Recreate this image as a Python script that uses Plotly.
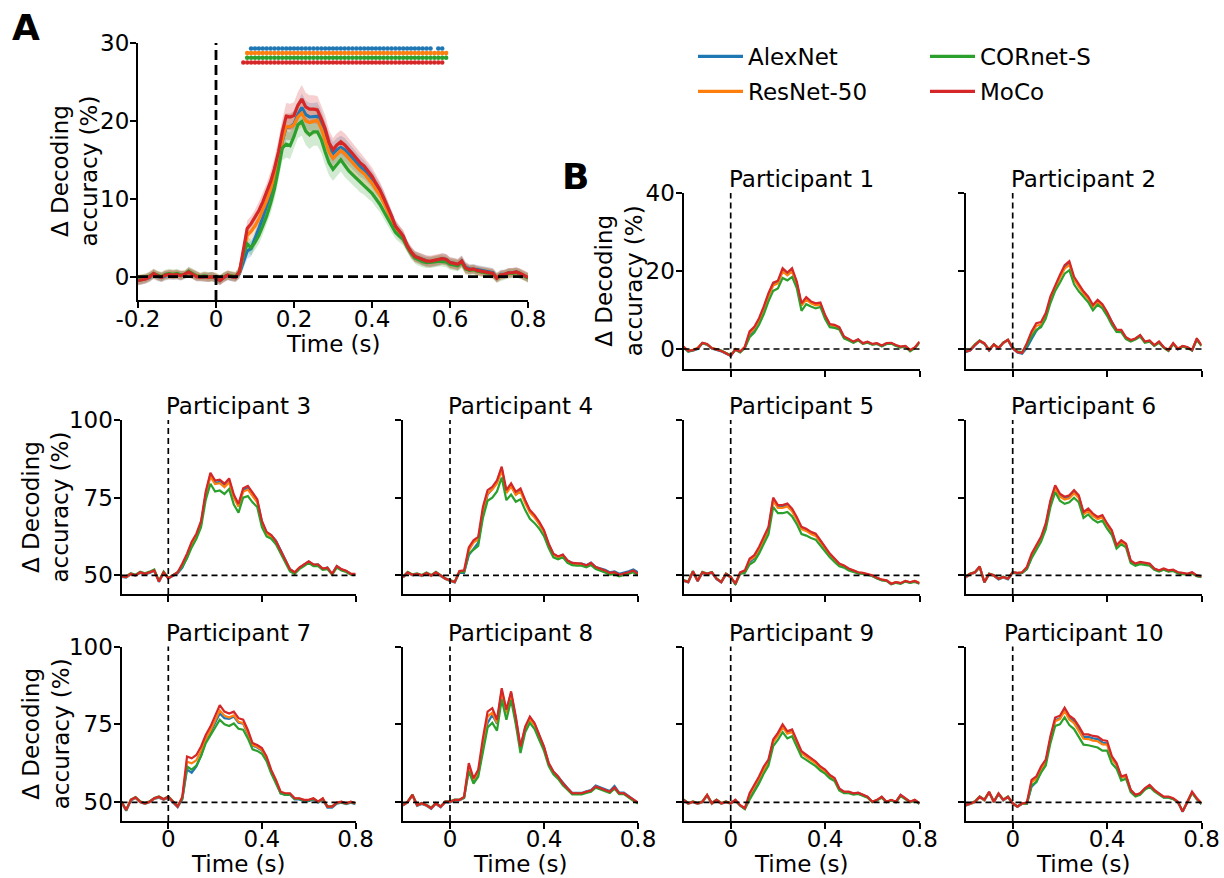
import numpy as np
import plotly.graph_objects as go

# ---------------- data ----------------
models = ["AlexNet", "ResNet-50", "CORnet-S", "MoCo"]
time_A = np.round(np.linspace(-0.2, 0.8, 101), 2)
time_P = np.round(np.linspace(-0.2, 0.8, 51), 2)

A_alexnet = [-0.5,-0.4,-0.3,-0.1,0.3,0.0,-0.1,0.1,0.2,0.2,
             0.2,0.1,0.2,0.5,0.3,0.0,-0.1,-0.1,-0.1,0.0,
             -0.2,-0.5,-0.1,0.1,0.0,-0.1,0.4,1.8,3.3,3.6,
             4.8,6.2,7.6,9.0,10.6,12.5,14.8,17.4,19.2,19.2,
             19.6,20.8,21.7,20.8,20.5,20.5,20.6,19.6,18.2,16.6,
             15.8,16.3,16.6,16.3,15.8,15.2,14.6,14.1,13.7,13.1,
             12.5,11.7,11.0,10.0,8.9,7.7,6.4,5.7,5.1,4.0,
             3.1,2.6,2.4,2.1,2.0,1.9,2.0,2.1,2.3,2.2,
             1.8,1.7,1.5,2.0,1.2,1.0,1.0,0.9,0.8,0.7,
             0.6,0.5,-0.1,0.3,0.3,0.5,0.5,0.6,0.4,0.2,
             -0.1]
A_resnet = [-0.4,-0.3,-0.2,0.0,0.3,0.1,0.0,0.2,0.3,0.3,
            0.3,0.2,0.3,0.5,0.3,0.1,0.0,0.0,-0.1,0.0,
            -0.1,-0.4,-0.1,0.2,0.1,0.0,0.5,3.0,5.3,5.8,
            6.5,7.4,8.5,9.8,11.2,12.9,15.0,17.5,19.3,19.2,
            19.5,20.5,21.0,20.0,19.8,20.0,20.1,19.0,17.6,16.0,
            15.2,15.7,16.2,15.8,15.2,14.7,14.1,13.6,13.2,12.6,
            12.0,11.2,10.5,9.5,8.5,7.4,6.2,5.6,5.0,3.9,
            3.1,2.5,2.3,2.1,1.9,1.9,2.0,2.1,2.2,2.1,
            1.7,1.6,1.5,1.9,1.0,0.9,0.9,0.7,0.6,0.6,
            0.5,0.4,-0.1,0.2,0.3,0.4,0.5,0.5,0.4,0.2,
            -0.1]
A_cornet = [-0.4,-0.3,-0.2,0.1,0.4,0.2,0.0,0.3,0.4,0.3,
            0.4,0.2,0.3,0.7,0.4,0.1,0.0,0.1,0.0,0.0,
            -0.1,-0.4,0.0,0.2,0.1,0.0,0.6,2.8,4.2,3.7,
            4.4,5.3,6.5,7.8,9.4,11.3,13.8,16.5,17.0,16.8,
            18.0,19.5,19.9,18.7,18.2,18.6,18.6,17.6,16.0,14.6,
            13.8,14.4,15.0,14.3,13.6,13.1,12.6,12.1,11.7,11.2,
            10.7,10.0,9.3,8.4,7.5,6.6,5.7,5.2,4.8,3.8,
            3.0,2.4,2.1,1.9,1.8,1.8,1.9,2.0,2.0,1.9,
            1.6,1.5,1.4,1.8,1.0,0.8,0.9,0.7,0.6,0.5,
            0.4,0.3,-0.2,0.1,0.2,0.4,0.4,0.5,0.3,0.1,
            -0.2]
A_moco = [-0.5,-0.4,-0.3,0.0,0.4,0.1,-0.1,0.2,0.3,0.2,
          0.3,0.1,0.3,0.6,0.3,0.0,-0.1,0.0,-0.1,0.0,
          -0.2,-0.5,-0.1,0.2,0.0,-0.1,0.6,3.5,6.2,6.8,
          7.6,8.5,9.6,10.8,12.2,13.9,16.0,18.6,20.6,20.5,
          20.7,22.0,22.8,21.8,21.5,21.5,21.4,20.3,19.0,17.2,
          16.3,16.9,17.3,16.9,16.4,15.8,15.2,14.6,14.2,13.5,
          12.9,12.0,11.2,10.1,9.0,7.8,6.5,5.8,5.2,4.0,
          3.2,2.6,2.4,2.2,2.0,2.0,2.1,2.2,2.3,2.2,
          1.8,1.7,1.6,2.0,1.1,0.9,1.0,0.8,0.7,0.6,
          0.5,0.4,-0.2,0.2,0.3,0.5,0.5,0.6,0.4,0.2,
          -0.1]
sem_A = [0.6,0.6,0.6,0.6,0.6,0.6,0.6,0.6,0.6,0.6,
         0.6,0.6,0.5,0.6,0.6,0.6,0.5,0.6,0.6,0.6,
         0.6,0.6,0.6,0.6,0.6,0.6,0.7,0.9,1.0,1.0,
         1.0,1.1,1.1,1.2,1.3,1.4,1.5,1.6,1.7,1.7,
         1.7,1.7,1.8,1.8,1.8,1.8,1.8,1.7,1.7,1.6,
         1.5,1.5,1.5,1.5,1.4,1.4,1.3,1.3,1.2,1.2,
         1.1,1.1,1.0,1.0,0.9,0.9,0.8,0.8,0.8,0.7,
         0.7,0.7,0.7,0.7,0.7,0.7,0.7,0.7,0.7,0.7,
         0.7,0.7,0.7,0.7,0.7,0.6,0.6,0.6,0.6,0.6,
         0.6,0.6,0.6,0.6,0.6,0.6,0.6,0.6,0.6,0.6,
         0.6]

# significant time windows (s) per model
sig_alexnet = [(0.09, 0.55), (0.57, 0.58)]
sig_resnet = [(0.08, 0.59)]
sig_cornet = [(0.08, 0.59)]
sig_moco = [(0.07, 0.58)]

P1_alexnet = [0.4,-0.6,-0.4,0.0,1.4,1.1,0.1,-0.2,-0.6,-1.2,-1.7,-0.2,-0.8,0.4,3.6,5.0,7.3,10.2,13.7,16.6,17.0,20.0,19.1,20.1,16.9,11.3,12.9,11.9,11.4,11.6,8.5,6.2,6.0,5.5,3.1,2.5,1.7,2.4,1.4,1.7,1.2,1.4,0.7,1.3,1.5,0.9,0.5,0.7,-0.4,0.3,1.7]
P1_resnet = [0.5,-0.4,-0.2,0.3,1.5,1.2,0.3,0.0,-0.4,-1.0,-1.6,0.0,-0.6,0.5,4.0,5.3,7.4,10.3,13.6,16.3,16.8,19.9,18.9,19.9,16.7,11.1,12.7,11.7,11.2,11.4,8.3,6.1,5.9,5.3,3.0,2.4,1.8,2.3,1.4,1.8,1.2,1.4,0.8,1.4,1.5,0.9,0.5,0.7,-0.2,0.3,1.8]
P1_cornet = [0.5,-0.7,-0.3,0.1,1.5,1.2,0.2,-0.1,-0.4,-1.0,-1.6,-0.2,-0.9,0.2,3.0,4.2,6.2,8.9,12.2,14.9,15.5,18.2,17.6,18.5,15.6,9.8,11.5,10.9,10.4,10.8,7.7,5.6,5.4,5.0,2.7,2.2,1.6,2.2,1.3,1.6,1.1,1.3,0.7,1.3,1.4,0.8,0.4,0.6,-0.6,0.2,1.6]
P1_moco = [0.6,-0.5,-0.3,0.2,1.6,1.3,0.2,-0.1,-0.5,-1.1,-1.8,-0.1,-0.7,0.6,4.5,5.7,7.9,10.9,14.3,17.0,17.5,20.7,19.6,20.7,17.3,11.7,13.3,12.2,11.7,11.9,8.7,6.4,6.2,5.6,3.2,2.6,1.9,2.5,1.5,1.9,1.3,1.5,0.9,1.5,1.6,1.0,0.6,0.8,-0.3,0.4,1.9]

P2_alexnet = [-0.8,-0.4,0.9,2.0,1.3,-0.4,1.1,0.1,1.5,2.2,0.1,-0.9,-1.2,0.3,2.5,4.6,6.0,8.5,12.9,16.0,18.6,21.0,22.0,18.1,16.1,14.4,13.1,11.0,12.3,11.2,9.2,6.8,4.8,4.7,2.8,2.1,2.6,3.5,1.8,2.0,0.9,1.8,0.4,-0.4,1.4,-0.1,0.7,0.4,-0.4,2.6,0.8]
P2_resnet = [-0.6,-0.2,1.1,2.0,1.4,-0.2,1.1,0.3,1.5,2.3,0.3,-0.7,-0.9,1.2,4.0,5.9,6.3,8.6,12.8,15.8,18.3,20.6,21.6,17.8,15.9,14.2,12.9,10.8,12.1,11.0,9.1,6.7,4.8,4.7,2.9,2.2,2.6,3.4,1.8,2.1,0.9,1.8,0.4,-0.2,1.4,0.1,0.7,0.4,-0.2,2.5,0.9]
P2_cornet = [-0.5,-0.2,1.2,2.2,1.4,-0.2,1.2,0.3,1.7,2.3,0.4,-0.6,-0.8,0.9,3.2,4.9,5.6,7.8,11.8,14.9,17.0,19.3,20.2,16.6,14.8,13.3,12.0,9.9,11.4,10.4,8.5,6.2,4.4,4.3,2.5,1.9,2.4,3.2,1.6,1.9,0.8,1.6,0.3,-0.5,1.2,0.0,0.6,0.3,-0.4,2.3,0.8]
P2_moco = [-0.7,-0.3,1.0,2.1,1.5,-0.3,1.2,0.2,1.6,2.4,0.2,-0.8,-1.0,1.5,4.5,6.6,6.9,9.2,13.5,16.5,19.0,21.5,22.5,18.5,16.5,14.8,13.4,11.3,12.6,11.5,9.5,7.0,5.0,4.9,3.0,2.3,2.7,3.6,1.9,2.2,1.0,1.9,0.5,-0.3,1.5,0.0,0.8,0.5,-0.3,2.7,1.0]

P3_alexnet = [49.5,49.3,50.3,49.9,50.8,50.3,50.8,51.4,47.9,50.8,49.0,49.8,50.6,52.5,55.8,59.8,62.7,66.8,76.2,82.4,79.8,80.1,78.8,80.5,75.4,72.5,77.4,78.2,76.0,74.1,67.3,63.8,62.9,61.2,58.2,55.0,52.0,50.9,52.4,53.4,54.4,53.4,53.5,52.1,52.5,50.4,53.0,51.9,51.4,50.5,50.3]
P3_resnet = [49.6,49.4,50.4,50.0,50.9,50.4,51.0,51.5,48.1,50.9,49.1,50.0,50.9,53.3,56.3,60.0,62.6,66.6,75.8,81.8,79.4,79.7,78.4,80.0,75.0,72.1,76.9,77.6,75.4,73.5,66.8,63.4,62.4,60.5,57.6,54.7,51.9,50.9,52.4,53.3,54.3,53.3,53.4,52.1,52.4,50.4,52.8,51.9,51.4,50.4,50.4]
P3_cornet = [49.8,49.7,50.7,50.2,51.2,50.7,51.2,51.9,48.3,51.2,49.2,50.2,51.0,52.8,55.5,59.0,61.8,65.5,74.3,79.5,77.0,77.3,76.2,77.8,72.8,70.2,75.0,75.5,73.5,72.0,65.5,62.5,61.8,60.0,57.0,54.2,51.3,50.5,52.0,53.0,54.0,53.0,53.0,51.8,52.0,50.2,52.5,51.6,51.1,50.2,50.2]
P3_moco = [49.7,49.5,50.5,50.0,51.0,50.5,51.0,51.6,48.0,51.0,49.0,50.0,51.0,53.8,57.0,60.8,63.4,67.5,77.0,83.0,80.5,80.8,79.5,81.2,76.0,73.0,78.0,78.8,76.5,74.5,67.5,64.0,63.0,61.0,58.0,55.0,52.0,51.0,52.5,53.5,54.5,53.5,53.5,52.2,52.5,50.5,53.0,52.0,51.5,50.5,50.5]

P4_alexnet = [49.3,50.8,50.0,50.3,49.8,50.6,49.8,50.8,49.8,48.8,48.2,47.7,50.9,50.8,56.5,58.5,60.5,69.5,76.0,77.8,80.0,84.5,76.9,78.9,76.0,77.3,73.8,70.6,69.0,66.8,64.2,60.0,56.8,56.0,56.6,54.8,54.0,53.7,53.8,53.3,54.1,52.7,52.3,51.8,51.0,51.3,50.5,50.8,51.3,51.9,51.0]
P4_resnet = [49.4,50.9,50.1,50.4,49.9,50.7,49.9,50.9,49.9,48.9,48.3,47.9,51.2,51.3,58.0,60.5,61.6,70.8,76.3,77.6,79.6,83.8,76.5,78.6,75.9,77.0,73.3,70.2,68.6,66.5,63.9,59.7,56.6,55.8,56.4,54.5,53.7,53.5,53.5,52.9,53.6,52.4,51.9,51.3,50.6,50.7,50.0,50.2,50.7,51.3,50.2]
P4_cornet = [49.6,51.1,50.3,50.6,50.1,50.9,50.1,51.1,50.1,49.1,48.5,47.9,51.0,51.0,57.0,58.2,59.5,68.5,74.0,75.0,77.0,81.5,74.2,76.0,73.7,74.5,71.0,68.2,66.8,65.0,62.6,58.8,55.8,55.2,55.8,54.0,53.3,53.1,53.1,52.6,53.3,52.0,51.5,50.9,50.2,50.4,49.7,50.0,50.5,51.0,50.0]
P4_moco = [49.5,51.0,50.2,50.5,50.0,50.8,50.0,51.0,50.0,49.0,48.4,47.8,51.4,51.6,59.0,61.3,62.4,72.0,77.4,78.5,80.6,85.0,77.4,79.6,76.9,78.0,74.2,71.0,69.4,67.2,64.5,60.2,57.0,56.1,56.7,54.8,54.0,53.8,53.8,53.2,54.0,52.7,52.2,51.6,50.8,51.0,50.2,50.5,51.0,51.6,50.5]

P5_alexnet = [48.2,47.7,51.1,48.1,50.8,50.3,50.8,48.8,47.7,50.3,49.3,47.3,50.6,51.0,54.2,55.6,58.2,61.5,64.8,74.3,72.0,72.0,72.6,71.0,68.4,65.4,64.7,63.7,63.1,61.0,58.8,56.7,55.2,53.6,53.0,52.0,51.4,50.8,50.6,50.3,49.8,49.1,48.5,48.3,47.2,47.7,47.4,48.1,47.7,48.1,47.4]
P5_resnet = [48.3,47.9,51.2,48.3,50.9,50.4,50.9,49.0,47.9,50.4,49.4,47.4,50.8,51.3,54.8,55.9,58.4,61.6,64.7,74.0,71.7,71.7,72.2,70.6,68.0,64.9,64.3,63.3,62.7,60.7,58.6,56.6,55.1,53.6,53.0,52.0,51.5,50.9,50.7,50.4,49.9,49.2,48.6,48.4,47.4,47.8,47.5,48.2,47.8,48.2,47.6]
P5_cornet = [48.5,48.0,51.4,48.3,51.1,50.6,51.1,49.0,47.9,50.6,49.6,47.0,50.5,50.8,53.5,54.5,57.0,60.0,63.2,72.0,70.0,70.0,70.4,69.0,66.5,63.3,62.8,62.0,61.5,59.6,57.6,55.8,54.3,52.9,52.5,51.6,51.1,50.6,50.5,50.2,49.8,49.0,48.4,48.2,47.1,47.6,47.3,48.0,47.6,47.9,47.3]
P5_moco = [48.4,47.8,51.3,48.2,51.0,50.5,51.0,48.9,47.8,50.5,49.5,47.3,51.0,51.6,55.4,56.5,59.1,62.4,65.6,75.0,72.6,72.6,73.1,71.5,68.8,65.6,65.0,64.0,63.4,61.3,59.1,57.0,55.4,53.8,53.2,52.2,51.6,51.0,50.8,50.5,50.0,49.2,48.6,48.4,47.3,47.8,47.5,48.2,47.8,48.2,47.5]

P6_alexnet = [49.3,50.3,50.8,52.6,47.7,50.3,49.8,48.7,49.3,48.7,50.8,50.6,50.8,52.0,55.8,58.8,61.7,66.0,73.6,78.5,75.8,74.8,75.3,76.8,75.3,69.9,71.0,69.4,68.3,68.9,66.3,64.1,59.5,61.0,60.0,54.6,53.6,54.1,53.8,53.6,52.1,51.5,52.0,51.4,51.7,50.9,50.7,50.4,50.9,49.8,49.4]
P6_resnet = [49.4,50.4,50.9,52.7,47.9,50.4,49.9,48.9,49.4,48.9,50.9,50.7,50.9,52.4,56.4,59.0,61.6,65.8,73.2,78.0,75.3,74.4,74.8,76.4,74.9,69.6,70.7,69.1,68.1,68.6,66.0,63.8,59.2,60.7,59.7,54.5,53.5,54.0,53.7,53.5,52.0,51.4,51.9,51.4,51.6,50.8,50.6,50.3,50.8,49.9,49.6]
P6_cornet = [49.6,50.6,51.1,52.8,47.8,50.6,50.1,49.0,49.6,49.0,51.0,50.7,50.8,52.0,55.5,58.2,60.8,64.8,72.0,76.8,74.0,73.0,73.5,75.0,73.5,68.5,69.6,68.0,67.0,67.6,65.0,63.0,58.6,60.0,59.0,54.0,53.1,53.6,53.3,53.1,51.8,51.2,51.8,51.2,51.4,50.6,50.4,50.2,50.6,49.7,49.5]
P6_moco = [49.5,50.5,51.0,52.9,47.8,50.5,50.0,48.9,49.5,48.9,51.0,50.8,51.0,52.7,57.0,59.7,62.4,66.7,74.2,79.0,76.3,75.3,75.8,77.4,75.8,70.4,71.5,69.9,68.8,69.4,66.7,64.5,59.7,61.3,60.2,54.8,53.8,54.3,54.0,53.8,52.2,51.6,52.2,51.6,51.8,51.0,50.8,50.5,51.0,50.0,49.7]

P7_alexnet = [49.9,47.3,50.6,51.4,50.0,49.5,50.0,51.1,51.5,50.8,51.5,50.0,48.4,51.0,60.5,59.5,61.5,65.0,69.5,72.5,75.5,78.5,77.0,76.8,77.5,75.5,75.2,72.0,68.2,67.6,66.6,64.0,59.6,56.6,52.9,52.4,52.4,50.9,50.9,50.4,50.4,50.9,49.9,50.9,48.3,48.3,49.6,49.9,49.4,49.9,49.4]
P7_resnet = [50.1,47.6,50.7,51.5,50.1,49.6,50.1,51.2,51.7,50.9,51.7,50.1,48.7,51.5,63.0,62.5,63.5,66.5,70.3,73.0,76.0,79.5,77.8,77.2,77.9,75.8,75.4,72.3,68.4,67.8,66.8,64.2,60.0,57.0,53.2,52.7,52.7,51.2,51.2,50.7,50.7,51.2,50.1,51.2,48.6,48.6,49.8,50.1,49.6,50.1,49.6]
P7_cornet = [50.3,47.4,50.9,51.7,50.3,49.8,50.3,51.4,51.9,51.1,51.9,50.3,48.8,51.2,61.5,60.5,61.8,64.8,69.0,71.5,74.0,76.5,75.0,74.5,75.3,73.6,73.3,70.5,67.0,66.5,65.6,63.2,59.2,56.3,52.9,52.4,52.5,51.2,51.1,50.6,50.6,51.1,50.1,51.1,48.7,48.7,49.8,50.1,49.6,50.1,49.6]
P7_moco = [50.2,47.5,50.8,51.6,50.2,49.7,50.2,51.3,51.8,51.0,51.8,50.2,48.6,51.8,64.7,64.1,65.2,67.9,71.6,74.3,77.5,81.2,79.1,78.5,79.1,77.0,76.5,73.2,69.0,68.4,67.4,64.7,60.4,57.2,53.4,52.9,52.9,51.3,51.3,50.8,50.8,51.3,50.2,51.3,48.6,48.6,49.9,50.2,49.7,50.2,49.7]

P8_alexnet = [48.9,50.0,52.2,48.9,49.5,48.9,47.9,49.5,48.4,50.0,50.0,50.6,50.6,51.4,61.0,56.8,59.0,67.5,75.5,78.0,75.2,85.8,78.9,85.0,77.0,67.6,74.0,77.2,75.2,71.4,67.7,62.5,59.8,58.2,56.2,54.6,53.0,53.0,53.0,53.5,53.9,55.4,54.8,54.2,53.6,55.2,53.1,53.1,51.9,50.8,49.8]
P8_resnet = [49.0,50.1,52.3,49.0,49.6,49.0,48.1,49.6,48.6,50.1,50.1,50.7,50.7,51.6,61.5,57.2,59.6,69.2,77.5,78.8,75.4,85.5,78.6,84.6,76.5,67.2,73.5,76.7,74.7,71.0,67.4,62.2,59.6,58.0,55.9,54.3,52.8,52.8,52.8,53.3,53.7,55.0,54.4,53.9,53.3,54.6,52.8,52.8,51.7,50.7,49.8]
P8_cornet = [49.2,50.3,52.5,49.2,49.8,49.2,48.3,49.8,48.7,50.3,50.3,50.9,50.9,51.5,60.0,56.0,58.2,66.5,74.0,75.5,73.0,83.0,76.5,82.8,75.0,65.8,72.5,75.5,73.5,70.0,66.5,61.6,59.0,57.5,55.5,54.0,52.5,52.5,52.5,53.0,53.4,54.7,54.1,53.6,53.0,54.4,52.6,52.6,51.5,50.5,49.6]
P8_moco = [49.1,50.2,52.4,49.1,49.7,49.1,48.1,49.7,48.6,50.2,50.2,50.8,50.8,51.8,62.6,57.7,60.4,70.6,79.1,80.2,76.5,86.6,79.7,85.6,77.5,67.9,74.3,77.5,75.4,71.6,67.9,62.6,59.9,58.3,56.1,54.5,52.9,52.9,52.9,53.4,53.8,55.1,54.5,54.0,53.4,54.8,52.9,52.9,51.8,50.8,49.9]

P9_alexnet = [50.6,49.5,50.0,49.5,50.0,52.2,49.5,50.6,49.5,50.0,49.5,50.6,48.9,47.9,51.5,54.2,57.0,60.5,63.0,69.5,71.8,74.5,72.4,73.0,69.2,66.0,64.9,63.8,62.8,61.2,60.2,58.6,57.6,54.3,53.3,53.3,52.8,53.0,52.3,51.7,50.1,50.7,51.7,50.1,50.7,50.1,52.3,51.2,50.1,50.7,49.5]
P9_resnet = [50.7,49.6,50.1,49.6,50.1,52.3,49.6,50.7,49.6,50.1,49.6,50.7,49.0,48.0,52.3,55.0,57.6,60.7,63.0,69.3,71.4,74.1,72.0,72.6,68.9,65.7,64.6,63.5,62.5,60.9,59.9,58.3,57.3,54.2,53.2,53.2,52.7,52.9,52.2,51.6,50.1,50.7,51.6,50.1,50.7,50.1,52.2,51.2,50.1,50.7,49.6]
P9_cornet = [50.9,49.8,50.3,49.8,50.3,52.3,49.8,50.9,49.8,50.3,49.8,50.6,49.0,47.8,50.8,53.5,56.0,59.2,61.8,68.0,70.0,72.5,70.5,71.2,67.6,64.6,63.6,62.6,61.6,60.2,59.2,57.7,56.8,53.8,52.9,52.9,52.5,52.7,52.0,51.5,50.0,50.6,51.5,50.0,50.6,50.0,52.0,51.0,50.0,50.5,49.5]
P9_moco = [50.8,49.7,50.2,49.7,50.2,52.4,49.7,50.8,49.7,50.2,49.7,50.8,49.1,48.1,52.9,55.6,58.3,61.5,63.7,70.2,72.3,75.0,72.8,73.4,69.6,66.4,65.3,64.2,63.1,61.5,60.5,58.8,57.8,54.5,53.4,53.4,52.9,53.1,52.4,51.8,50.2,50.8,51.8,50.2,50.8,50.2,52.4,51.3,50.2,50.8,49.7]

P10_alexnet = [48.9,49.5,50.0,51.6,50.6,53.1,50.0,52.6,50.6,51.6,49.5,48.5,49.5,49.5,55.0,56.5,60.0,62.8,70.5,76.4,77.0,79.7,77.1,75.9,73.6,71.0,71.0,70.5,70.3,69.2,68.9,64.2,62.1,57.9,58.4,53.8,52.3,52.8,54.3,55.4,53.8,52.7,51.6,51.6,51.1,50.0,47.0,50.0,53.1,51.1,49.4]
P10_resnet = [49.0,49.6,50.1,51.7,50.7,53.2,50.1,52.7,50.7,51.7,49.6,48.6,49.6,49.7,56.5,57.5,60.7,62.9,70.3,76.0,76.7,79.3,76.6,75.4,73.1,70.4,70.3,69.8,69.6,68.6,68.5,64.0,62.0,57.9,58.4,53.8,52.3,52.8,54.4,55.5,53.9,52.8,51.7,51.7,51.2,50.1,47.1,50.1,53.2,51.2,49.6]
P10_cornet = [49.2,49.8,50.3,51.9,50.9,53.3,50.3,52.8,50.9,51.9,49.8,48.7,49.7,49.6,55.5,56.5,59.5,61.8,69.0,74.5,75.0,77.3,74.8,73.5,71.2,68.5,68.3,67.9,67.6,66.6,66.6,62.5,60.8,57.0,57.6,53.3,51.9,52.4,54.0,55.0,53.5,52.5,51.5,51.5,51.0,50.0,47.2,50.0,53.0,51.0,49.5]
P10_moco = [49.1,49.7,50.2,51.8,50.8,53.4,50.2,52.9,50.8,51.8,49.7,48.6,49.7,49.9,57.2,58.3,61.5,63.7,71.3,77.2,77.8,80.4,77.8,76.7,74.5,71.8,71.8,71.3,71.1,70.0,69.7,64.8,62.6,58.3,58.8,54.0,52.4,52.9,54.5,55.6,54.0,52.9,51.8,51.8,51.3,50.2,47.0,50.2,53.4,51.3,49.7]

# ---------------- assembly ----------------
panelA = {"AlexNet": A_alexnet, "ResNet-50": A_resnet, "CORnet-S": A_cornet, "MoCo": A_moco}
sig = {"AlexNet": sig_alexnet, "ResNet-50": sig_resnet, "CORnet-S": sig_cornet, "MoCo": sig_moco}
participants = {
    1: [P1_alexnet, P1_resnet, P1_cornet, P1_moco],
    2: [P2_alexnet, P2_resnet, P2_cornet, P2_moco],
    3: [P3_alexnet, P3_resnet, P3_cornet, P3_moco],
    4: [P4_alexnet, P4_resnet, P4_cornet, P4_moco],
    5: [P5_alexnet, P5_resnet, P5_cornet, P5_moco],
    6: [P6_alexnet, P6_resnet, P6_cornet, P6_moco],
    7: [P7_alexnet, P7_resnet, P7_cornet, P7_moco],
    8: [P8_alexnet, P8_resnet, P8_cornet, P8_moco],
    9: [P9_alexnet, P9_resnet, P9_cornet, P9_moco],
    10: [P10_alexnet, P10_resnet, P10_cornet, P10_moco],
}

# ---------------- styles ----------------
W, H = 1224, 878
FONT = "DejaVu Sans"
FS = 23
colors = {"AlexNet": "#1f77b4", "ResNet-50": "#ff7f0e", "CORnet-S": "#2ca02c", "MoCo": "#d62728"}
bands = {"AlexNet": "rgba(31,119,180,0.22)", "ResNet-50": "rgba(255,127,14,0.22)",
         "CORnet-S": "rgba(44,160,44,0.22)", "MoCo": "rgba(214,39,40,0.22)"}
sig_rows = {"AlexNet": 29.3, "ResNet-50": 28.7, "CORnet-S": 28.1, "MoCo": 27.5}
legend_of = {"AlexNet": "legend", "ResNet-50": "legend", "CORnet-S": "legend2", "MoCo": "legend2"}


def px_x(v):
    return v / W


def px_y(v):
    return 1 - v / H


cols = [(121.5, 355.5), (403, 638), (683.5, 919.5), (965.5, 1201.5)]
rows = [(193, 368.5), (420, 594), (646.5, 821)]
grid = {1: (2, 0), 2: (3, 0), 3: (0, 1), 4: (1, 1), 5: (2, 1), 6: (3, 1),
        7: (0, 2), 8: (1, 2), 9: (2, 2), 10: (3, 2)}

fig = go.Figure()

# panel A: bands, lines
for m in models:
    y = np.array(panelA[m])
    s = np.array(sem_A)
    fig.add_trace(go.Scatter(
        x=np.concatenate([time_A, time_A[::-1]]),
        y=np.concatenate([y + s, (y - s)[::-1]]),
        fill="toself", fillcolor=bands[m], line=dict(width=0),
        mode="lines", showlegend=False, hoverinfo="skip", xaxis="x", yaxis="y"))
for m in models:
    fig.add_trace(go.Scatter(
        x=time_A, y=panelA[m], mode="lines", name=m,
        line=dict(color=colors[m], width=3.2),
        legend=legend_of[m], legendgroup=m, showlegend=True,
        xaxis="x", yaxis="y"))
# significance dots
for m in models:
    ts = np.concatenate([np.round(np.arange(a, b + 0.005, 0.01), 2) for a, b in sig[m]])
    fig.add_trace(go.Scatter(
        x=ts, y=[sig_rows[m]] * len(ts), mode="markers",
        marker=dict(color=colors[m], size=4.6, line=dict(width=0)),
        showlegend=False, hoverinfo="skip", xaxis="x", yaxis="y", cliponaxis=False))

# participants
for p, series in participants.items():
    ax = p + 1
    for m, vals in zip(models, series):
        fig.add_trace(go.Scatter(
            x=time_P, y=vals, mode="lines", line=dict(color=colors[m], width=2.2),
            showlegend=False, xaxis=f"x{ax}", yaxis=f"y{ax}"))

axis_style = dict(showline=True, linecolor="black", linewidth=2, ticks="outside",
                  ticklen=6, tickwidth=2, tickcolor="black", showgrid=False,
                  zeroline=False, automargin=False,
                  tickfont=dict(family=FONT, size=FS, color="black"))

layout = dict(
    width=W, height=H, margin=dict(l=0, r=0, t=0, b=0, pad=0, autoexpand=False),
    paper_bgcolor="white", plot_bgcolor="white",
    font=dict(family=FONT, size=FS, color="black"),
    xaxis=dict(domain=[px_x(138), px_x(528)], range=[-0.2, 0.8], anchor="y",
               tickvals=[-0.2, 0, 0.2, 0.4, 0.6, 0.8], ticklabelstandoff=-9,
               ticktext=["-0.2", "0", "0.2", "0.4", "0.6", "0.8"], **axis_style),
    yaxis=dict(domain=[px_y(300), px_y(43)], range=[-3, 30], anchor="x",
               tickvals=[0, 10, 20, 30], ticklabelstandoff=-4, **axis_style),
    legend=dict(x=px_x(693), y=px_y(35), xanchor="left", yanchor="top",
                bgcolor="rgba(0,0,0,0)", tracegroupgap=2, itemwidth=45,
                font=dict(family=FONT, size=FS, color="black")),
    legend2=dict(x=px_x(925), y=px_y(35), xanchor="left", yanchor="top",
                 bgcolor="rgba(0,0,0,0)", tracegroupgap=2, itemwidth=45,
                 font=dict(family=FONT, size=FS, color="black")),
    showlegend=True,
)
for p in participants:
    ax = p + 1
    c, r = grid[p]
    if p in (1, 2):
        yr, yt = [-5, 40], [0, 20, 40]
    else:
        yr, yt = [44, 100], [50, 75, 100]
    layout[f"xaxis{ax}"] = dict(domain=[px_x(cols[c][0]), px_x(cols[c][1])], range=[-0.2, 0.8],
                                anchor=f"y{ax}", tickvals=[0, 0.4, 0.8], ticktext=["0", "0.4", "0.8"],
                                ticklabelstandoff=-10,
                                showticklabels=(r == 2), **axis_style)
    layout[f"yaxis{ax}"] = dict(domain=[px_y(rows[r][1]), px_y(rows[r][0])], range=yr,
                                anchor=f"x{ax}", tickvals=yt, ticklabelstandoff=-4,
                                showticklabels=(c == 0 or p == 1), **axis_style)
fig.update_layout(**layout)

# dashed reference lines
shapes = []
shapes.append(dict(type="line", xref="x", yref="y domain", x0=0, x1=0, y0=0, y1=1,
                   line=dict(color="black", width=2.8, dash="10px,5px"), layer="above"))
shapes.append(dict(type="line", xref="x domain", yref="y", x0=0, x1=1, y0=0, y1=0,
                   line=dict(color="black", width=2.8, dash="10px,5px"), layer="above"))
for p in participants:
    ax = p + 1
    base = 0 if p in (1, 2) else 50
    shapes.append(dict(type="line", xref=f"x{ax}", yref=f"y{ax} domain", x0=0, x1=0, y0=0, y1=1,
                       line=dict(color="black", width=1.7, dash="6px,4px"), layer="above"))
    shapes.append(dict(type="line", xref=f"x{ax} domain", yref=f"y{ax}", x0=0, x1=1, y0=base, y1=base,
                       line=dict(color="black", width=1.7, dash="6px,4px"), layer="above"))
fig.update_layout(shapes=shapes)

# text annotations
ann = []
ylab = "Δ Decoding<br>accuracy (%)"
ann.append(dict(text=ylab, xref="paper", yref="paper", x=px_x(74), y=px_y(171.5),
                textangle=-90, showarrow=False, xanchor="center", yanchor="middle",
                font=dict(family=FONT, size=FS)))
ann.append(dict(text="Time (s)", xref="paper", yref="paper", x=px_x(333), y=px_y(344),
                showarrow=False, xanchor="center", yanchor="middle", borderpad=0,
                font=dict(family=FONT, size=FS)))
ann.append(dict(text="<b>A</b>", xref="paper", yref="paper", x=px_x(26), y=px_y(28),
                showarrow=False, xanchor="center", yanchor="middle", font=dict(family=FONT, size=36)))
ann.append(dict(text="<b>B</b>", xref="paper", yref="paper", x=px_x(575), y=px_y(176),
                showarrow=False, xanchor="center", yanchor="middle", font=dict(family=FONT, size=36)))
for p in participants:
    ax = p + 1
    c, r = grid[p]
    ann.append(dict(text=f"Participant {p}", xref=f"x{ax} domain", yref=f"y{ax} domain",
                    x=0.5, y=1, xanchor="center", yanchor="bottom", showarrow=False, borderpad=0,
                    font=dict(family=FONT, size=FS)))
    if r == 2:
        ann.append(dict(text="Time (s)", xref=f"x{ax} domain", yref="paper", x=0.5, y=px_y(864),
                        xanchor="center", yanchor="middle", showarrow=False, borderpad=0,
                        font=dict(family=FONT, size=FS)))
    if p in (1, 3, 7):
        cx = cols[c][0] - 65 if p == 1 else cols[c][0] - 76
        cy = (rows[r][0] + rows[r][1]) / 2
        ann.append(dict(text=ylab, xref="paper", yref="paper", x=px_x(cx), y=px_y(cy),
                        textangle=-90, showarrow=False, xanchor="center", yanchor="middle",
                        font=dict(family=FONT, size=FS)))
fig.update_layout(annotations=ann)

fig.write_html("out.html")
